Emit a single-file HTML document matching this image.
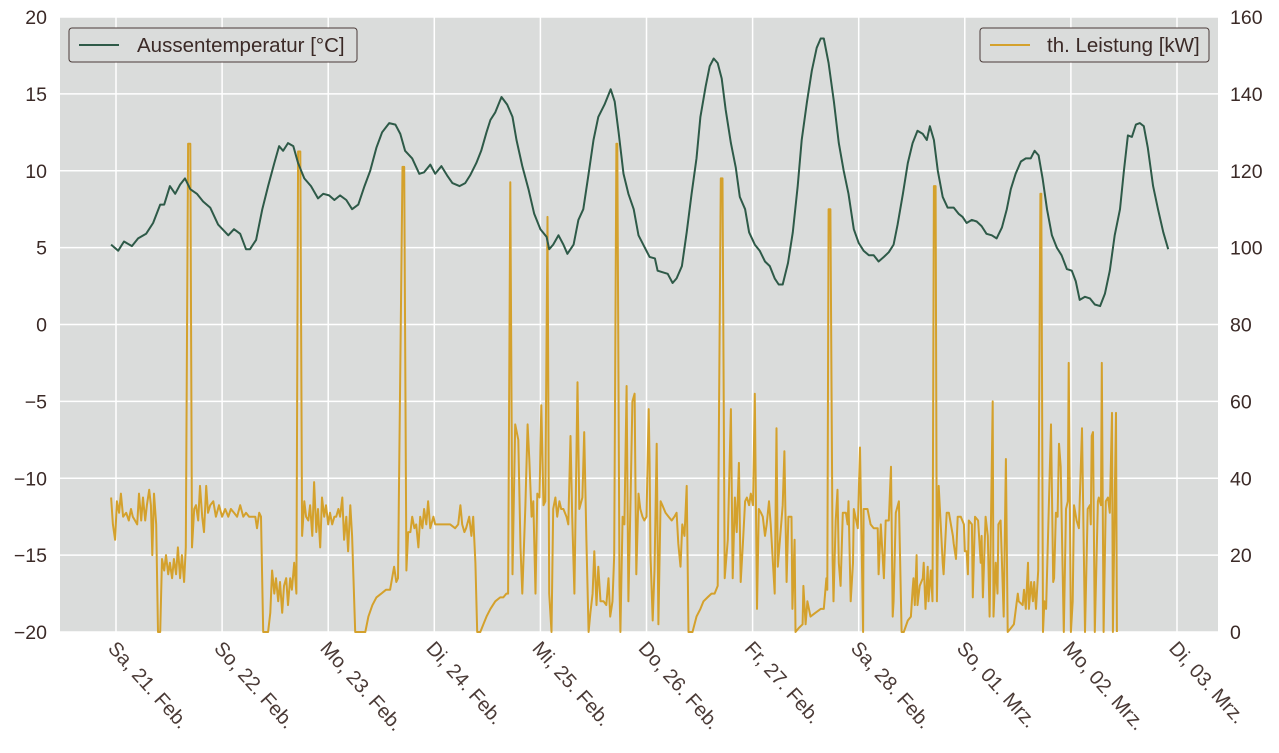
<!DOCTYPE html>
<html><head><meta charset="utf-8"><style>
html,body{margin:0;padding:0;background:#fff;}
svg{display:block;font-family:"Liberation Sans",sans-serif;}
</style></head><body>
<svg id="chart" width="1279" height="753" viewBox="0 0 1279 753" xmlns="http://www.w3.org/2000/svg">
<rect x="60" y="17" width="1158" height="615" fill="#dadcdb"/>
<g id="grid"></g><g id="series"></g><g id="axes"></g>
<g>
<rect x="69" y="28" width="288" height="34" rx="3" fill="#dadcdb" stroke="#4a3a38" stroke-width="1"/>
<line x1="79" y1="45" x2="119" y2="45" stroke="#2e5a48" stroke-width="2"/>
<text x="137" y="52" font-size="20.5" fill="#3b2a27">Aussentemperatur [°C]</text>
</g>
<g>
<rect x="980" y="28" width="229" height="34" rx="3" fill="#dadcdb" stroke="#4a3a38" stroke-width="1"/>
<line x1="990" y1="45" x2="1030" y2="45" stroke="#d4a12c" stroke-width="2"/>
<text x="1047" y="52" font-size="20.5" fill="#3b2a27">th. Leistung [kW]</text>
</g>
</svg>
<script>
const dayLabels=["Sa, 21. Feb.","So, 22. Feb.","Mo, 23. Feb.","Di, 24. Feb.","Mi, 25. Feb.","Do, 26. Feb.","Fr, 27. Feb.","Sa, 28. Feb.","So, 01. Mrz.","Mo, 02. Mrz.","Di, 03. Mrz."];
const leftTicks=[20,15,10,5,0,-5,-10,-15,-20];
const rightTicks=[160,140,120,100,80,60,40,20,0];
const tempHours=[-1.1,0.5,1.8,3.6,5.0,6.8,8.4,10.0,10.9,12.2,13.4,14.5,15.6,16.8,18.3,19.7,21.3,23.1,25.4,26.7,28.1,29.4,30.3,31.7,33.1,34.4,35.8,36.9,37.8,38.9,40.1,41.2,42.6,44.1,45.7,46.9,48.2,49.4,50.7,52.1,53.4,54.8,56.2,57.5,58.9,60.2,61.8,63.2,64.3,65.4,67.0,68.6,69.7,71.1,72.2,73.6,74.9,76.1,77.7,79.0,80.1,81.5,82.6,83.8,84.7,85.8,87.2,88.5,89.7,90.6,91.9,93.3,94.6,96.0,97.4,98.0,98.9,100.1,101.2,102.1,103.5,104.6,105.7,106.9,108.0,109.1,110.5,111.9,112.8,113.7,114.8,115.9,117.1,118.2,119.8,120.7,121.9,122.5,123.6,124.8,125.9,126.8,128.0,129.1,130.2,131.3,132.2,133.4,134.3,135.2,136.1,137.0,137.9,139.1,140.2,141.1,142.3,143.2,144.5,145.6,146.8,147.9,149.0,149.9,150.8,152.0,153.1,154.2,155.1,156.3,157.4,158.5,159.4,160.1,161.2,162.4,163.5,164.6,165.7,166.9,168.0,169.1,170.3,171.4,172.5,173.7,174.8,175.9,176.8,178.0,179.1,180.2,181.3,182.5,183.4,184.1,185.0,185.9,187.0,188.1,189.5,190.6,191.5,192.4,193.6,194.7,195.8,196.9,198.1,199.2,200.4,201.5,202.4,203.5,204.7,205.8,206.9,207.8,208.7,209.6,210.6,211.7,212.8,213.9,215.1,216.2,217.1,218.0,219.2,220.3,221.4,222.6,223.7,224.8,225.9,227.1,228.0,228.9,229.8,230.7,231.6,232.5,233.4,234.6,235.7,236.9,238.0];
const tempValues=[5.2,4.8,5.4,5.1,5.6,5.9,6.6,7.8,7.8,9.0,8.5,9.1,9.5,8.8,8.5,8.0,7.6,6.5,5.8,6.2,5.9,4.9,4.9,5.5,7.5,9.0,10.5,11.6,11.3,11.8,11.6,10.5,9.5,9.0,8.2,8.5,8.4,8.1,8.4,8.1,7.5,7.8,9.0,10.0,11.5,12.5,13.1,13.0,12.4,11.3,10.8,9.8,9.9,10.4,9.8,10.3,9.7,9.2,9.0,9.2,9.7,10.5,11.3,12.5,13.3,13.8,14.8,14.3,13.5,12.0,10.3,8.8,7.2,6.2,5.7,4.9,5.2,5.8,5.2,4.6,5.2,6.8,7.5,9.8,12.0,13.5,14.3,15.3,14.5,12.5,9.8,8.5,7.5,5.8,4.9,4.4,4.3,3.5,3.4,3.3,2.7,3.0,3.8,6.0,8.5,10.8,13.5,15.5,16.8,17.3,17.0,16.0,14.0,11.8,10.2,8.3,7.5,6.0,5.2,4.8,4.1,3.8,3.0,2.6,2.6,4.0,6.0,9.0,12.0,14.5,16.5,18.0,18.6,18.6,17.0,14.5,11.8,10.0,8.5,6.2,5.3,4.8,4.5,4.5,4.1,4.4,4.7,5.2,6.5,8.5,10.5,11.8,12.6,12.4,12.0,12.9,12.0,10.0,8.3,7.6,7.6,7.2,7.0,6.6,6.8,6.7,6.4,5.9,5.8,5.6,6.3,7.5,8.8,9.8,10.6,10.8,10.8,11.3,11.0,9.5,7.5,5.8,5.0,4.5,3.6,3.5,2.8,1.6,1.8,1.7,1.3,1.2,2.0,3.5,5.8,7.5,10.0,12.3,12.2,13.0,13.1,12.9,11.5,9.0,7.5,6.0,4.9];
const powerHours=[-1.1,-0.7,-0.2,0.2,0.7,1.1,1.6,2.3,2.9,3.4,3.8,4.3,4.8,5.2,5.7,6.1,6.6,7.0,7.5,7.9,8.2,8.6,9.1,9.5,10.0,10.4,10.9,11.3,11.8,12.2,12.7,13.1,13.6,14.0,14.5,14.9,15.4,15.8,16.3,16.8,17.2,17.7,18.1,18.6,19.0,19.5,19.9,20.4,20.8,21.3,22.0,22.6,23.3,24.0,24.7,25.4,26.0,26.7,27.4,28.1,28.8,29.4,30.1,30.8,31.5,31.9,32.4,32.8,33.3,34.4,34.9,35.3,35.8,36.2,36.7,37.1,37.6,38.0,38.5,38.9,39.4,39.8,40.3,40.8,41.2,41.7,42.1,42.6,43.0,43.5,43.9,44.4,44.8,45.3,45.7,46.2,46.6,47.1,47.5,48.0,48.4,48.9,49.4,49.8,50.3,50.7,51.2,51.6,52.1,52.5,53.0,53.4,54.1,56.4,57.1,58.0,58.9,60.0,61.1,62.0,62.9,63.4,63.8,64.8,65.2,65.7,66.1,66.6,67.0,67.5,67.9,68.4,68.8,69.3,69.7,70.2,70.6,71.1,71.8,72.2,73.4,74.5,75.6,76.7,77.4,77.9,78.3,78.8,79.2,79.9,80.4,80.8,81.3,81.7,82.4,83.1,83.8,84.7,85.8,86.9,87.6,88.3,88.7,89.2,89.7,90.3,91.0,91.5,91.9,92.6,93.1,93.5,94.0,94.4,94.9,95.3,95.8,96.2,96.7,97.1,97.6,98.0,98.5,98.9,99.4,99.8,100.3,100.7,101.2,101.9,102.3,102.8,103.2,103.7,104.4,104.8,105.5,105.9,106.4,106.9,107.3,107.8,108.2,108.7,109.1,109.6,110.3,110.9,111.4,111.8,112.3,112.7,113.2,113.4,113.9,114.1,114.6,115.0,115.5,115.9,116.4,116.8,117.3,117.7,118.2,118.6,119.1,119.5,120.0,120.5,120.7,120.9,121.4,121.8,122.3,122.7,123.2,123.6,124.3,125.0,125.7,126.3,126.8,127.2,127.7,128.1,128.6,129.1,129.5,130.4,131.3,132.2,132.9,133.8,134.7,135.4,136.1,136.8,137.2,137.7,138.4,139.1,139.5,140.0,140.4,140.9,141.3,141.8,142.3,142.7,143.2,143.6,144.1,144.5,145.0,145.4,145.9,146.3,146.8,147.2,147.7,148.1,149.0,149.4,149.7,150.8,151.2,151.7,152.1,152.8,153.0,153.5,153.7,154.4,155.3,155.5,156.0,156.4,157.1,158.2,159.4,160.1,160.7,160.9,161.2,161.6,162.1,162.3,162.8,163.2,163.5,163.9,164.4,165.1,165.5,165.7,166.2,166.7,166.9,167.8,168.3,169.0,169.1,170.0,170.7,171.4,172.3,172.5,173.0,173.7,174.1,174.8,175.3,175.7,175.9,176.4,177.1,177.7,178.2,179.1,179.8,180.2,180.4,180.7,181.1,181.3,181.8,182.5,182.7,183.1,183.6,183.8,184.3,184.7,185.0,185.4,185.7,186.1,187.0,187.2,187.9,188.4,189.3,189.5,190.0,190.4,191.1,191.8,192.0,192.4,192.7,192.9,193.6,193.8,194.3,195.0,195.6,195.8,196.1,196.7,197.2,197.6,198.3,198.5,199.0,199.4,199.6,200.1,200.8,201.3,201.7,202.4,203.1,204.0,204.2,205.1,205.4,205.8,206.3,206.5,207.0,207.4,207.7,208.1,208.6,209.1,209.3,209.7,210.0,210.4,211.5,212.0,212.2,212.6,213.0,213.3,213.7,214.4,214.9,215.3,215.5,216.0,216.4,216.7,217.3,217.8,218.5,218.7,219.2,219.8,220.3,220.5,220.7,221.0,221.4,222.1,222.3,222.8,223.0,223.4,223.9,224.4,224.8,225.3,225.5,226.2,226.4];
const powerValues=[35,28,24,34,31,36,30,31,29,32,30,29,28,36,29,35,29,33,37,33,20,36,28,0,0,19,16,20,15,18,14,19,15,22,14,20,13,22,127,127,22,32,33,29,38,30,26,38,31,33,34,30,33,30,32,30,32,31,30,33,30,31,30,30,30,27,31,30,0,0,5,16,10,14,8,13,5,12,14,7,14,11,18,10,125,125,25,34,30,29,33,25,39,26,32,22,35,30,33,28,31,28,30,30,32,30,35,24,30,21,33,25,0,0,4,7,9,10,11,11,17,13,14,121,121,16,26,26,30,27,28,22,30,27,32,28,34,27,30,28,28,28,28,27,28,33,28,26,27,30,25,30,18,0,0,2,4,6,8,9,9,10,10,117,15,54,50,22,10,33,54,45,30,34,10,36,35,59,33,34,108,10,0,32,35,30,34,32,32,30,28,51,30,10,65,32,35,52,24,0,5,10,21,7,17,8,8,7,14,4,8,20,127,127,12,0,30,28,64,8,35,60,62,15,36,32,30,29,30,58,44,20,3,16,49,2,34,33,31,30,29,30,31,23,17,28,25,38,0,0,4,6,8,9,10,10,12,118,118,14,24,58,14,35,26,44,13,23,34,35,33,36,33,62,6,32,31,30,25,28,34,28,10,53,17,33,47,13,30,30,6,24,0,1,2,12,2,8,4,5,6,6,14,11,110,110,19,8,29,37,18,12,31,31,28,34,8,18,32,27,48,0,32,32,28,27,27,15,28,14,29,29,43,4,8,31,34,0,0,3,4,11,14,7,20,7,12,14,18,6,17,8,16,8,116,116,8,38,18,15,31,31,25,23,19,30,30,28,21,21,15,29,28,9,30,29,18,25,9,30,25,4,60,4,18,10,28,29,4,45,0,1,2,10,8,7,11,6,18,6,13,8,13,6,16,114,114,0,8,6,54,13,14,31,30,49,43,0,32,34,70,0,8,33,29,27,53,39,0,32,33,28,51,52,0,34,35,33,70,0,34,35,31,57,0,57,0];

const NS="http://www.w3.org/2000/svg";
const X0=116, PX_PER_DAY=106.1;
function xScale(h){return X0+h/24*PX_PER_DAY;}
function yLeft(v){return 632-(v+20)/40*615;}
function yRight(v){return 632-v/160*615;}
function mk(tag,attrs,parent){const e=document.createElementNS(NS,tag);for(const k in attrs)e.setAttribute(k,attrs[k]);parent.appendChild(e);return e;}
const grid=document.getElementById('grid'),axes=document.getElementById('axes'),series=document.getElementById('series');

leftTicks.forEach(v=>{
  const y=yLeft(v);
  const gl=mk('line',{x1:60,x2:1218,y1:y,y2:y,stroke:'#ffffff','stroke-width':1.5},grid);
  
  
  const t=mk('text',{x:47,y:y+7,'text-anchor':'end','font-size':19.5,fill:'#3b2a27'},axes);
  t.textContent=String(v).replace('-','−');
  
  
});
rightTicks.forEach(v=>{
  const y=yRight(v);
  const t=mk('text',{x:1230,y:y+7,'text-anchor':'start','font-size':19.5,fill:'#3b2a27'},axes);
  t.textContent=String(v);
  
  
});
dayLabels.forEach((lab,i)=>{
  const x=xScale(i*24);
  const gl=mk('line',{x1:x,x2:x,y1:17,y2:632,stroke:'#ffffff','stroke-width':1.5},grid);
  
  
  const tx=x-9,ty=649;
  const t=mk('text',{x:tx,y:ty,'font-size':20,fill:'#4a3a36',transform:`rotate(48 ${tx} ${ty})`},axes);
  t.textContent=lab;
  
  
});
function line(hs,vs,ys,color,name){
  const d=hs.map((h,i)=>(i?'L':'M')+xScale(h).toFixed(1)+' '+ys(vs[i]).toFixed(1)).join(' ');
  const p=mk('path',{d:d,fill:'none',stroke:color,'stroke-width':2,'stroke-linejoin':'round'},series);
  
  
}
line(powerHours,powerValues,yRight,'#d4a12c','power-line');
line(tempHours,tempValues,yLeft,'#2e5a48','temperature-line');
</script>
</body></html>
